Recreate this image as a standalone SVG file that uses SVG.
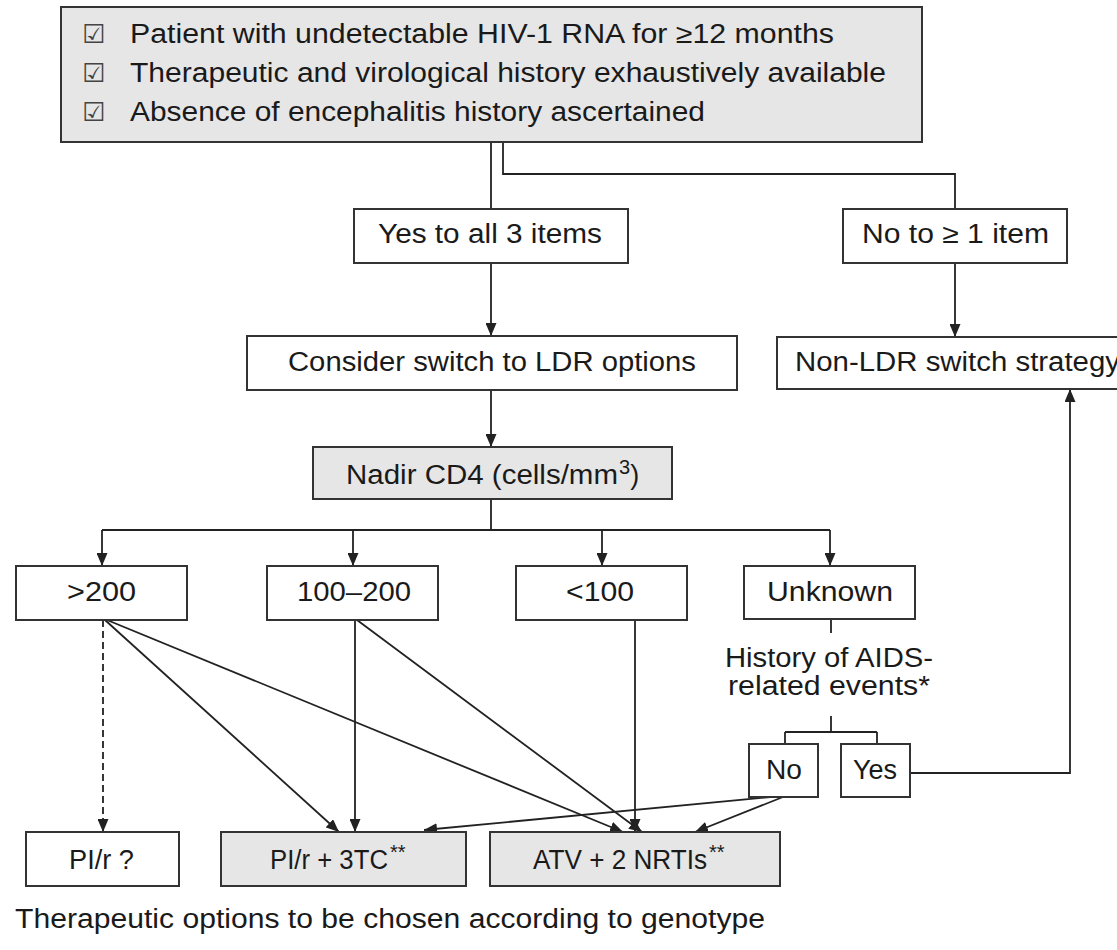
<svg xmlns="http://www.w3.org/2000/svg" width="1117" height="950" viewBox="0 0 1117 950">
<style>
.box{fill:#fff;stroke:#333;stroke-width:2}
.gbox{fill:#e6e6e6;stroke:#333;stroke-width:2}
.t{font-family:"Liberation Sans",Arial,sans-serif;font-size:27px;fill:#1a1a1a}
.ln{fill:none;stroke:#222;stroke-width:1.8}
.ar{marker-end:url(#ah)}
.chk{font-family:"DejaVu Sans",sans-serif;font-size:26px;fill:#444}
.sup{font-size:20px}
</style>
<defs>
<marker id="ah" markerUnits="userSpaceOnUse" markerWidth="13" markerHeight="11" refX="13" refY="5.5" orient="auto">
<path d="M0,0 L13,5.5 L0,11 z" fill="#222"/>
</marker>
</defs>
<g id="connectors">
<path class="ln" d="M491,142 V209"/>
<path class="ln" d="M503,142 V174 H955 V209"/>
<path class="ln ar" d="M491,263 V336"/>
<path class="ln ar" d="M955,263 V337"/>
<path class="ln ar" d="M491,390 V447"/>
<path class="ln" d="M491,499 V530 M102,530 H830"/>
<path class="ln ar" d="M102,530 V566"/>
<path class="ln ar" d="M353,530 V566"/>
<path class="ln ar" d="M602,530 V566"/>
<path class="ln ar" d="M830,530 V566"/>
<path class="ln ar" d="M103,620 V832" stroke-dasharray="7,4"/>
<path class="ln ar" d="M105,620 L339,832"/>
<path class="ln ar" d="M107,620 L623,832"/>
<path class="ln ar" d="M355,620 V832"/>
<path class="ln ar" d="M357,620 L642,832"/>
<path class="ln ar" d="M635,620 V832"/>
<path class="ln" d="M831,619 V633"/>
<path class="ln" d="M831,716 V732 M785,732 H877 M785,732 V744 M877,732 V744"/>
<path class="ln ar" d="M770,797 L424,830"/>
<path class="ln ar" d="M783,797 L695,832"/>
<path class="ln ar" d="M910,773 H1070 V389"/>
</g>
<g id="criteria">
<rect class="gbox" x="61" y="7" width="861" height="135"/>
<text class="chk" x="82" y="43">☑</text>
<text class="chk" x="82" y="82">☑</text>
<text class="chk" x="82" y="121">☑</text>
<text class="t" x="130" y="43" textLength="704" lengthAdjust="spacingAndGlyphs">Patient with undetectable HIV-1 RNA for ≥12 months</text>
<text class="t" x="130" y="82" textLength="756" lengthAdjust="spacingAndGlyphs">Therapeutic and virological history exhaustively available</text>
<text class="t" x="130" y="121" textLength="575" lengthAdjust="spacingAndGlyphs">Absence of encephalitis history ascertained</text>
</g>
<g id="yes-all">
<rect class="box" x="354" y="209" width="274" height="54"/>
<text class="t" x="378" y="243" textLength="224" lengthAdjust="spacingAndGlyphs">Yes to all 3 items</text>
</g>
<g id="no-one">
<rect class="box" x="843" y="209" width="224" height="54"/>
<text class="t" x="862" y="243" textLength="187" lengthAdjust="spacingAndGlyphs">No to ≥ 1 item</text>
</g>
<g id="consider">
<rect class="box" x="247" y="336" width="490" height="54"/>
<text class="t" x="288" y="371" textLength="408" lengthAdjust="spacingAndGlyphs">Consider switch to LDR options</text>
</g>
<g id="non-ldr">
<rect class="box" x="777" y="337" width="360" height="52"/>
<text class="t" x="795" y="371" textLength="325" lengthAdjust="spacingAndGlyphs">Non-LDR switch strategy</text>
</g>
<g id="nadir">
<rect class="gbox" x="313" y="447" width="359" height="52"/>
<text class="t" x="346" y="484"><tspan textLength="272" lengthAdjust="spacingAndGlyphs">Nadir CD4 (cells/mm</tspan><tspan dx="1" dy="-10" class="sup">3</tspan><tspan dy="10">)</tspan></text>
</g>
<g id="gt200">
<rect class="box" x="16" y="566" width="171" height="54"/>
<text class="t" x="67" y="601" textLength="69" lengthAdjust="spacingAndGlyphs">&gt;200</text>
</g>
<g id="r100-200">
<rect class="box" x="267" y="566" width="171" height="54"/>
<text class="t" x="297" y="601" textLength="114" lengthAdjust="spacingAndGlyphs">100–200</text>
</g>
<g id="lt100">
<rect class="box" x="516" y="566" width="171" height="54"/>
<text class="t" x="566" y="601" textLength="68" lengthAdjust="spacingAndGlyphs">&lt;100</text>
</g>
<g id="unknown">
<rect class="box" x="744" y="566" width="171" height="53"/>
<text class="t" x="767" y="601" textLength="126" lengthAdjust="spacingAndGlyphs">Unknown</text>
</g>
<g id="history">
<text class="t" x="725" y="667" textLength="208" lengthAdjust="spacingAndGlyphs">History of AIDS-</text>
<text class="t" x="728" y="695" textLength="202" lengthAdjust="spacingAndGlyphs">related events*</text>
</g>
<g id="no">
<rect class="box" x="749" y="744" width="69" height="53"/>
<text class="t" x="766" y="779" textLength="36" lengthAdjust="spacingAndGlyphs">No</text>
</g>
<g id="yes">
<rect class="box" x="841" y="744" width="69" height="53"/>
<text class="t" x="853" y="779" textLength="44" lengthAdjust="spacingAndGlyphs">Yes</text>
</g>
<g id="pir">
<rect class="box" x="26" y="832" width="153" height="54"/>
<text class="t" x="69" y="869" textLength="65" lengthAdjust="spacingAndGlyphs">PI/r ?</text>
</g>
<g id="pir-3tc">
<rect class="gbox" x="221" y="832" width="245" height="54"/>
<text class="t" x="270" y="869"><tspan textLength="118" lengthAdjust="spacingAndGlyphs">PI/r + 3TC</tspan><tspan dx="2" dy="-10" class="sup">**</tspan></text>
</g>
<g id="atv">
<rect class="gbox" x="490" y="832" width="290" height="54"/>
<text class="t" x="533" y="869"><tspan textLength="174" lengthAdjust="spacingAndGlyphs">ATV + 2 NRTIs</tspan><tspan dx="2" dy="-10" class="sup">**</tspan></text>
</g>
<g id="footer">
<text class="t" x="15" y="928" textLength="750" lengthAdjust="spacingAndGlyphs">Therapeutic options to be chosen according to genotype</text>
</g>
</svg>
